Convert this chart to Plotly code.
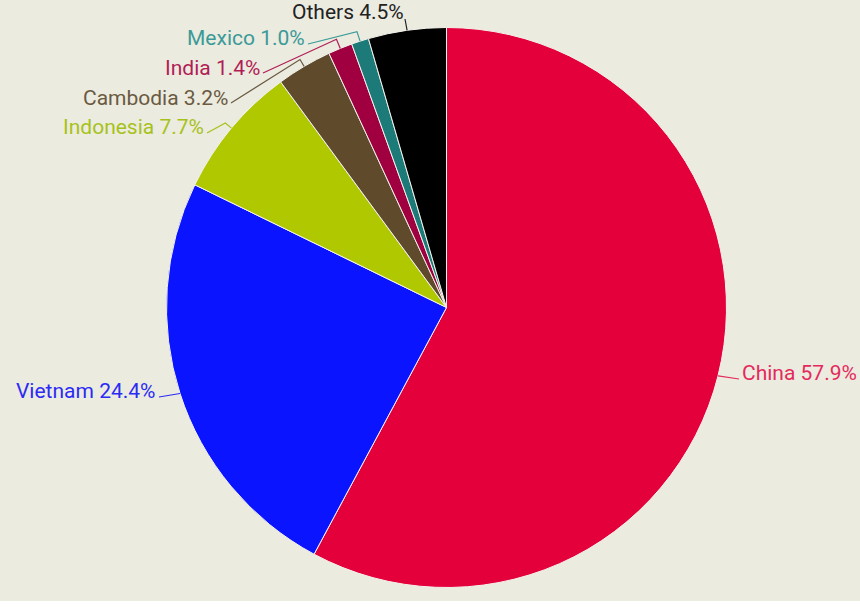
import math
import plotly.graph_objects as go

countries = ["China", "Vietnam", "Indonesia", "Cambodia", "India", "Mexico", "Others"]
shares = [57.9, 24.4, 7.7, 3.2, 1.4, 1.0, 4.5]
slice_colors = ["#E4003A", "#0A14FF", "#AFC800", "#5F4A2B", "#A0003F", "#1C7A78", "#000000"]
text_colors = ["#E42A5C", "#2B2BF5", "#A6C21A", "#6A5A42", "#B01E55", "#3B9A98", "#222222"]

W, H = 860, 608
BG = "#ECEBE0"
CX, CY, R = 446.5, 307.5, 280.0

# label anchor positions (pixels) and alignment
label_pos = {
    "China": (740, 373, "left"),
    "Vietnam": (157, 391, "right"),
    "Indonesia": (206, 127, "right"),
    "Cambodia": (230, 98, "right"),
    "India": (262, 68, "right"),
    "Mexico": (307, 38, "right"),
    "Others": (406, 12, "right"),
}
leader_end = {
    "China": (739, 379),
    "Vietnam": (159, 397),
    "Indonesia": (207, 133),
    "Cambodia": (231, 103),
    "India": (263, 73),
    "Mexico": (308, 44),
    "Others": (405, 19),
}
elbow_extra = {"China": 0, "Vietnam": 0, "Indonesia": 8, "Cambodia": 8,
               "India": 10, "Mexico": 10, "Others": 0}

def px(x):
    return x / W

def py(y):
    return 1 - y / H

fig = go.Figure(go.Pie(
    labels=countries,
    values=shares,
    sort=False,
    direction="clockwise",
    rotation=0,
    marker=dict(colors=slice_colors, line=dict(color="#F4F3EC", width=1)),
    textinfo="none",
    hovertemplate="%{label}: %{value}%<extra></extra>",
    domain=dict(x=[px(CX - R), px(CX + R)], y=[py(CY + R), py(CY - R)]),
    showlegend=False,
))

shapes = [dict(type="rect", xref="paper", yref="paper", x0=0, x1=1,
               y0=py(601), y1=1, fillcolor=BG, line=dict(width=0), layer="below")]
annotations = []
total = sum(shares)
cum = 0.0
for name, v, tc in zip(countries, shares, text_colors):
    mid = (cum + v / 2) / total * 2 * math.pi
    cum += v
    sx, sy = CX + R * math.sin(mid), CY - R * math.cos(mid)
    ex = elbow_extra[name]
    pts = [(sx, sy)]
    if ex:
        pts.append((CX + (R + ex) * math.sin(mid), CY - (R + ex) * math.cos(mid)))
    pts.append(leader_end[name])
    path = "M " + " L ".join(f"{px(x)},{py(y)}" for x, y in pts)
    shapes.append(dict(type="path", xref="paper", yref="paper", path=path,
                       line=dict(color=tc, width=1.2)))
    lx, ly, al = label_pos[name]
    annotations.append(dict(
        x=px(lx), y=py(ly), xref="paper", yref="paper", showarrow=False,
        text=f"{name} {v:.1f}%", xanchor=al, yanchor="middle",
        font=dict(family="Roboto, sans-serif", size=21, color=tc)))

fig.update_layout(
    width=W, height=H,
    margin=dict(l=0, r=0, t=0, b=0),
    paper_bgcolor="white",
    plot_bgcolor=BG,
    shapes=shapes,
    annotations=annotations,
)

fig.write_html("out.html")
